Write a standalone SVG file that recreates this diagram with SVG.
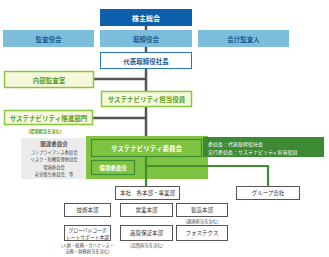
<svg xmlns="http://www.w3.org/2000/svg" width="329" height="257" viewBox="0 0 329 257">
<style>
text{font-family:"Noto Sans CJK JP","Noto Sans",sans-serif;text-anchor:middle;dominant-baseline:central}
.lb{fill:#7dbddc}
.lbt{fill:#1f5d97;font-size:6.5px;font-weight:bold}
.cream{fill:#f6f8dc;stroke:#8cc63f;stroke-width:1.5}
.gt{fill:#5a9e2a;font-size:6.5px;font-weight:bold}
.wb{fill:#fff;stroke:#555;stroke-width:1}
.st{fill:#333;font-size:5.5px}
.sm{fill:#444;font-size:4.3px}
</style>
<rect width="329" height="257" fill="#fff"/>
<g id="connectors" fill="none">
<line x1="146" y1="26" x2="146" y2="138" stroke="#555" stroke-width="2.5"/>
<line x1="94" y1="79" x2="146" y2="79" stroke="#555" stroke-width="2.5"/>
<line x1="93" y1="118" x2="146" y2="118" stroke="#555" stroke-width="2.5"/>
</g>
<g id="kabunushi"><rect x="100" y="9" width="92" height="17" fill="#0b5fad"/><text x="146" y="17.5" fill="#fff" font-size="7px" font-weight="bold">株主総会</text></g>
<g id="kansayaku"><rect class="lb" x="3" y="30" width="91" height="17"/><text class="lbt" x="48.5" y="38.5">監査役会</text></g>
<g id="torishimariyaku"><rect class="lb" x="100" y="30" width="92" height="17"/><text class="lbt" x="146" y="38.5">取締役会</text></g>
<g id="kaikei"><rect class="lb" x="198" y="30" width="91" height="17"/><text class="lbt" x="243.5" y="38.5">会計監査人</text></g>
<g id="shacho"><rect x="100.5" y="52.5" width="91" height="16" fill="#fff" stroke="#2a77c0" stroke-width="1"/><text class="lbt" x="146" y="60.5">代表取締役社長</text></g>
<g id="naibu"><rect class="cream" x="4.5" y="71.5" width="89" height="16"/><text class="gt" x="49" y="79.5">内部監査室</text></g>
<g id="tanto"><rect class="cream" x="101.5" y="91.5" width="90" height="15"/><text class="gt" x="146.5" y="99">サステナビリティ担当役員</text></g>
<g id="suishin"><rect class="cream" x="4.5" y="110.5" width="88" height="14"/><text class="gt" x="48.5" y="117.5">サステナビリティ推進部門</text><text x="45" y="130.5" fill="#5a9e2a" font-size="4.3px" font-weight="bold">(環境担当を含む)</text></g>
<g id="kanren"><rect x="21" y="138" width="66" height="41" fill="#ececec"/><text x="54" y="143.5" fill="#555" font-size="5.5px" font-weight="bold">関連委員会</text><text class="sm" x="54" y="151.5" fill="#666">コンプライアンス委員会</text><text class="sm" x="54" y="159">リスク・危機管理委員会</text><text class="sm" x="54" y="166.5">環境委員会</text><text class="sm" x="54" y="174">安全衛生委員会、等</text></g>
<g id="green-area"><rect x="86" y="136" width="122" height="43" fill="#80c242"/></g>
<g id="iinkai"><rect x="91.5" y="139.5" width="110" height="17" fill="#80c242" stroke="#3e8f33" stroke-width="1.2"/><text x="146.5" y="148" fill="#fff" font-size="6.5px" font-weight="bold">サステナビリティ委員会</text></g>
<g id="kankyo"><rect x="91.5" y="160.5" width="43" height="14" fill="#80c242" stroke="#3e8f33" stroke-width="1.2"/><text x="113" y="167.5" fill="#fff" font-size="5.5px" font-weight="bold">環境委員会</text></g>
<g id="chair"><rect x="203" y="137" width="121" height="20" fill="#3d8a35"/><text x="208" y="143.5" fill="#fff" font-size="5px" style="text-anchor:start">委員長：代表取締役社長</text><text x="208" y="151" fill="#fff" font-size="5px" style="text-anchor:start">実行委員長：サステナビリティ担当役員</text></g>
<g id="green-connectors" fill="none" stroke="#3e8f33" stroke-width="2.2">
<line x1="146" y1="157" x2="146" y2="186"/>
<polyline points="146,166 268,166 268,186"/>
</g>
<g id="honsha"><rect class="wb" x="115.5" y="186.5" width="64" height="13"/><text class="st" x="147.5" y="193">本社　各本部・事業部</text></g>
<g id="group"><rect class="wb" x="236.5" y="186.5" width="63" height="13"/><text class="st" x="268" y="193">グループ会社</text></g>
<g id="gijutsu"><rect class="wb" x="64.5" y="203.5" width="46" height="13"/><text class="st" x="87.5" y="210">技術本部</text></g>
<g id="eigyo"><rect class="wb" x="120.5" y="203.5" width="52" height="13"/><text class="st" x="146.5" y="210">営業本部</text></g>
<g id="seizo"><rect class="wb" x="176.5" y="203.5" width="51" height="13"/><text class="st" x="202" y="210">製造本部</text><text class="sm" x="202" y="221">(調達担当を含む)</text></g>
<g id="global"><rect class="wb" x="64.5" y="225.5" width="46" height="15"/><text x="87.5" y="229.5" fill="#333" font-size="4.8px">グローバルコーポ</text><text x="87.5" y="236" fill="#333" font-size="4.8px">レートサポート本部</text><text class="sm" x="87.5" y="244.5">(人財・総務・ガバナンス・</text><text class="sm" x="87.5" y="250.5">法務・財務担当を含む)</text></g>
<g id="hinshitsu"><rect class="wb" x="120.5" y="225.5" width="52" height="15"/><text class="st" x="146.5" y="233">品質保証本部</text><text class="sm" x="146.5" y="245">(品質担当を含む)</text></g>
<g id="fostex"><rect class="wb" x="176.5" y="225.5" width="51" height="15"/><text class="st" x="202" y="233">フォステクス</text></g>
</svg>
